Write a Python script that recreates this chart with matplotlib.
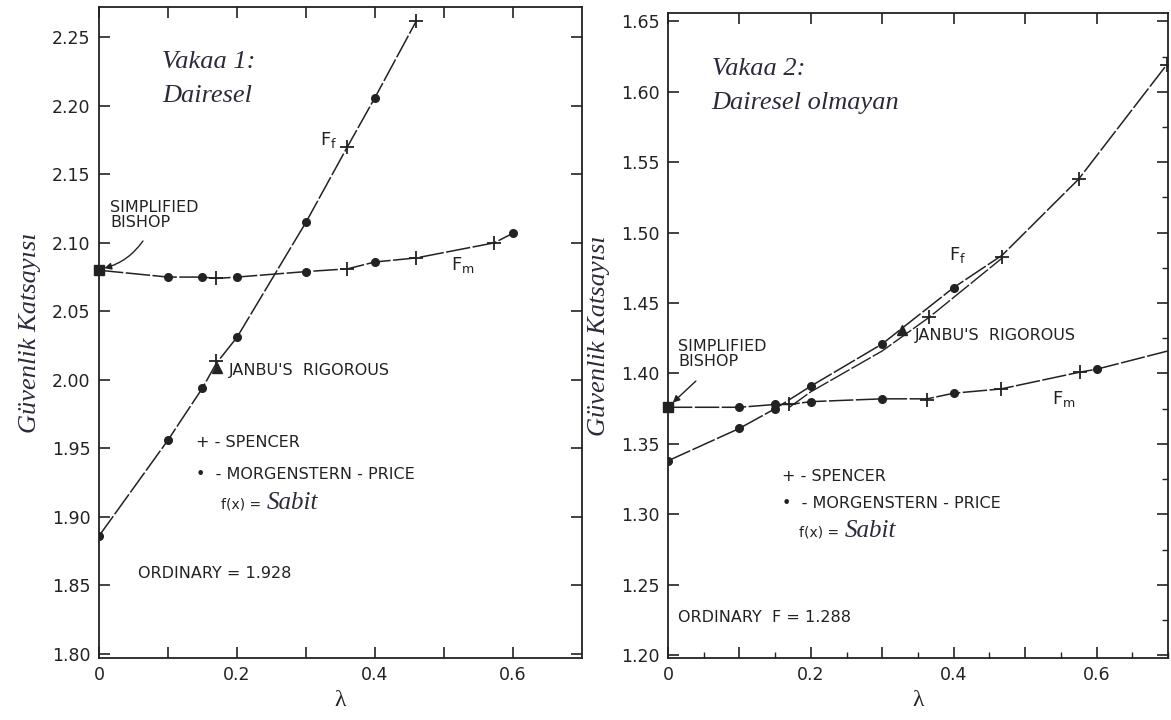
import numpy as np
import matplotlib.pyplot as plt
from matplotlib.ticker import FixedLocator, FixedFormatter, MultipleLocator

# Vakaa 1: dairesel kayma yuzeyi
lam_ff1 = [0.0, 0.1, 0.15, 0.17, 0.2, 0.3, 0.36, 0.4, 0.46]
ff1 = [1.886, 1.956, 1.994, 2.012, 2.031, 2.115, 2.170, 2.206, 2.262]
lam_fm1 = [0.0, 0.1, 0.15, 0.17, 0.2, 0.3, 0.36, 0.4, 0.46, 0.573, 0.6]
fm1 = [2.080, 2.075, 2.075, 2.074, 2.075, 2.079, 2.081, 2.086, 2.089, 2.100, 2.107]
spencer_lam1 = [0.17, 0.36, 0.46, 0.17, 0.36, 0.46, 0.573]
spencer1 = [2.014, 2.170, 2.262, 2.074, 2.081, 2.089, 2.100]
mp_lam1 = [0.0, 0.1, 0.15, 0.2, 0.3, 0.4, 0.1, 0.15, 0.2, 0.3, 0.4, 0.6]
mp1 = [1.886, 1.956, 1.994, 2.031, 2.115, 2.206, 2.075, 2.075, 2.075, 2.079, 2.086, 2.107]
janbu_lam1, janbu1 = 0.171, 2.009
bishop1 = 2.080
ordinary1 = "1.928"

# Vakaa 2: dairesel olmayan kayma yuzeyi
lam_ff2 = [0.0, 0.1, 0.15, 0.2, 0.3, 0.4, 0.468, 0.575, 0.698]
ff2 = [1.338, 1.361, 1.375, 1.391, 1.421, 1.461, 1.484, 1.538, 1.619]
lam_jl2 = [0.17, 0.2, 0.3, 0.366, 0.468]
jl2 = [1.376, 1.387, 1.416, 1.440, 1.482]
lam_fm2 = [0.0, 0.1, 0.15, 0.17, 0.2, 0.3, 0.363, 0.4, 0.466, 0.577, 0.6, 0.7]
fm2 = [1.376, 1.376, 1.378, 1.378, 1.380, 1.382, 1.382, 1.386, 1.389, 1.401, 1.403, 1.416]
spencer_lam2 = [0.17, 0.366, 0.468, 0.575, 0.698, 0.363, 0.466, 0.577]
spencer2 = [1.378, 1.440, 1.483, 1.538, 1.619, 1.381, 1.389, 1.401]
mp_lam2 = [0.0, 0.1, 0.15, 0.2, 0.3, 0.4, 0.1, 0.15, 0.2, 0.3, 0.4, 0.6]
mp2 = [1.338, 1.361, 1.375, 1.391, 1.421, 1.461, 1.376, 1.378, 1.380, 1.382, 1.386, 1.403]
janbu_lam2, janbu2 = 0.328, 1.431
bishop2 = 1.376
ordinary2 = "1.288"

x_ticks = [0.0, 0.1, 0.2, 0.3, 0.4, 0.5, 0.6]
x_labels = ["0", "", "0.2", "", "0.4", "", "0.6"]

INK = "#222222"
SERIF = ["Liberation Serif", "DejaVu Serif"]
SANS = ["DejaVu Sans"]
DASH = (16, 1.6)

fig = plt.figure(figsize=(11.71, 7.2), dpi=100)
ax1 = fig.add_axes([0.0845, 0.0861, 0.4125, 0.904])
ax2 = fig.add_axes([0.5704, 0.0861, 0.427, 0.896])


def style_axes(ax, ylim, yticks):
    ax.set_xlim(0, 0.7)
    ax.set_ylim(*ylim)
    ax.xaxis.set_major_locator(FixedLocator(x_ticks))
    ax.xaxis.set_major_formatter(FixedFormatter(x_labels))
    ax.yaxis.set_major_locator(FixedLocator(yticks))
    ax.yaxis.set_major_formatter(FixedFormatter(["%.2f" % v for v in yticks]))
    ax.tick_params(direction="in", top=True, right=True, length=8, width=1.2,
                   labelsize=12.5, colors=INK, pad=6)
    for s in ax.spines.values():
        s.set_linewidth(1.3)
        s.set_color(INK)
    ax.set_xlabel("λ", fontsize=17, family=SERIF, color=INK, labelpad=4)
    ax.set_ylabel("Güvenlik Katsayısı", fontsize=19, family=SERIF,
                  style="italic", color="#2a2a3a", labelpad=8)


def draw_points(ax, sl, sv, ml, mv, jl, jv, bv):
    ax.plot(sl, sv, "+", color=INK, ms=10, mew=1.3, zorder=4)
    ax.plot(ml, mv, "o", color=INK, ms=5.5, zorder=4)
    ax.plot([jl], [jv], "^", color=INK, ms=6.5, zorder=4)
    ax.plot([0.0], [bv], "s", color=INK, ms=7, clip_on=False, zorder=5)


def legend_text(ax, x, y_sp, y_mp, x_fx, y_fx):
    ax.text(x, y_sp, "+ - SPENCER", fontsize=11.5, color=INK, va="center")
    ax.text(x, y_mp, "•  - MORGENSTERN - PRICE", fontsize=11.5, color=INK, va="center")
    ax.text(x_fx, y_fx, "f(x) = ", fontsize=10, color=INK, va="center")


# ---- Vakaa 1 ----
ax1.plot(lam_ff1, ff1, color=INK, lw=1.1, dashes=DASH)
ax1.plot(lam_fm1, fm1, color=INK, lw=1.1, dashes=DASH)
draw_points(ax1, spencer_lam1, spencer1, mp_lam1, mp1, janbu_lam1, janbu1, bishop1)
style_axes(ax1, (1.797, 2.272), [1.80, 1.85, 1.90, 1.95, 2.00, 2.05, 2.10, 2.15, 2.20, 2.25])

ax1.text(0.092, 2.232, "Vakaa 1:", fontsize=19, family=SERIF, style="italic",
         color="#2a2a3a", va="center")
ax1.text(0.092, 2.207, "Dairesel", fontsize=19, family=SERIF, style="italic",
         color="#2a2a3a", va="center")
ax1.text(0.016, 2.120, "SIMPLIFIED\nBISHOP", fontsize=11.5, family=SANS, color=INK,
         va="center", linespacing=1.0)
ax1.annotate("", xy=(0.004, 2.081), xytext=(0.066, 2.103),
             arrowprops=dict(arrowstyle="-|>", color=INK, lw=1.0,
                             connectionstyle="arc3,rad=-0.2"))
ax1.text(0.32, 2.175, "F$_{\\mathregular{f}}$", fontsize=13, color=INK, va="center")
ax1.text(0.51, 2.084, "F$_{\\mathregular{m}}$", fontsize=13, color=INK, va="center")
ax1.text(0.188, 2.0065, "JANBU'S  RIGOROUS", fontsize=11.5, color=INK, va="center")
legend_text(ax1, 0.141, 1.954, 1.931, 0.177, 1.909)
ax1.text(0.243, 1.910, "Sabit", fontsize=18, family=SERIF, style="italic",
         color="#2a2a3a", va="center")
ax1.text(0.056, 1.859, "ORDINARY = " + ordinary1, fontsize=11.5, color=INK, va="center")

# ---- Vakaa 2 ----
ax2.plot(lam_ff2, ff2, color=INK, lw=1.1, dashes=DASH)
ax2.plot(lam_jl2, jl2, color=INK, lw=1.0, dashes=DASH)
ax2.plot(lam_fm2, fm2, color=INK, lw=1.1, dashes=DASH)
draw_points(ax2, spencer_lam2, spencer2, mp_lam2, mp2, janbu_lam2, janbu2, bishop2)
style_axes(ax2, (1.198, 1.656), [1.20, 1.25, 1.30, 1.35, 1.40, 1.45, 1.50, 1.55, 1.60, 1.65])
ax2.xaxis.set_minor_locator(MultipleLocator(0.05))
ax2.yaxis.set_minor_locator(MultipleLocator(0.025))
ax2.tick_params(which="minor", direction="in", left=False, top=False, right=True,
                length=4, width=1.0, colors=INK)

ax2.text(0.061, 1.616, "Vakaa 2:", fontsize=19, family=SERIF, style="italic",
         color="#2a2a3a", va="center")
ax2.text(0.061, 1.592, "Dairesel olmayan", fontsize=19, family=SERIF, style="italic",
         color="#2a2a3a", va="center")
ax2.text(0.014, 1.414, "SIMPLIFIED\nBISHOP", fontsize=11.5, color=INK,
         va="center", linespacing=1.0)
ax2.annotate("", xy=(0.004, 1.378), xytext=(0.042, 1.396),
             arrowprops=dict(arrowstyle="-|>", color=INK, lw=1.0))
ax2.text(0.394, 1.484, "F$_{\\mathregular{f}}$", fontsize=13, color=INK, va="center")
ax2.text(0.345, 1.427, "JANBU'S  RIGOROUS", fontsize=11.5, color=INK, va="center")
ax2.text(0.538, 1.382, "F$_{\\mathregular{m}}$", fontsize=13, color=INK, va="center")
legend_text(ax2, 0.159, 1.327, 1.308, 0.184, 1.287)
ax2.text(0.248, 1.288, "Sabit", fontsize=18, family=SERIF, style="italic",
         color="#2a2a3a", va="center")
ax2.text(0.014, 1.227, "ORDINARY  F = " + ordinary2, fontsize=11.5, color=INK, va="center")

fig.savefig("out.png", dpi=100)
